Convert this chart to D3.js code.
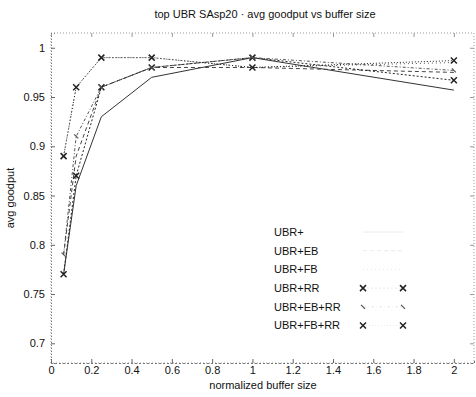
<!DOCTYPE html>
<html>
<head>
<meta charset="utf-8">
<script src="https://cdn.jsdelivr.net/npm/d3@7"></script>
<style>
  body { margin: 0; background: #fff; }
  text { font-family: "Liberation Sans", Arial, sans-serif; fill: #111; }
</style>
</head>
<body>
<div id="chart"></div>
<script>
// buffer sizes (normalized)
const bufferSizes = [0.0625, 0.125, 0.25, 0.5, 1, 2]

// avg goodput for each scheme
const ubr = [0.77, 0.86, 0.93, 0.97, 0.99, 0.957]
const ubrEb = [0.79, 0.89, 0.96, 0.98, 0.98, 0.975]
const ubrFb = [0.89, 0.96, 0.99, 0.99, 0.98, 0.985]
const ubrRr = [0.77, 0.87, 0.96, 0.98, 0.99, 0.967]
const ubrEbRr = [0.79, 0.91, 0.96, 0.98, 0.99, 0.977]
const ubrFbRr = [0.89, 0.96, 0.99, 0.99, 0.98, 0.987]

const seriesNames = ['UBR+', 'UBR+EB', 'UBR+FB', 'UBR+RR', 'UBR+EB+RR', 'UBR+FB+RR']
const seriesValues = [ubr, ubrEb, ubrFb, ubrRr, ubrEbRr, ubrFbRr]

const xTicks = [0, 0.2, 0.4, 0.6, 0.8, 1, 1.2, 1.4, 1.6, 1.8, 2]
const yTicks = [0.7, 0.75, 0.8, 0.85, 0.9, 0.95, 1]

const width = 476, height = 397
const margin = { top: 33, right: 2, bottom: 34, left: 51 }

// line styles per series
const styles = [
  { dash: null, marker: null, color: '#333' },
  { dash: '4,3', marker: null, color: '#444' },
  { dash: '1,3', marker: null, color: '#555' },
  { dash: '2,2', marker: 'x', color: '#222' },
  { dash: '3,2,1,2', marker: 'small', color: '#555' },
  { dash: '1,2', marker: 'x', color: '#222' }
]

const x = d3.scaleLinear()
  .domain([0, 2.1])
  .range([margin.left, width - margin.right])

const y = d3.scaleLinear()
  .domain([0.68, 1.015])
  .range([height - margin.bottom, margin.top])

const svg = d3.select('#chart')
  .append('svg')
  .attr('width', width)
  .attr('height', height)

// Frame (faint, dotted like the scan)
svg.append('rect')
  .attr('x', margin.left)
  .attr('y', margin.top)
  .attr('width', width - margin.left - margin.right)
  .attr('height', height - margin.top - margin.bottom)
  .attr('fill', 'none')
  .attr('stroke', '#999')
  .attr('stroke-dasharray', '1,2')
  .attr('stroke-width', 1)

// X axis, ticks pointing inward
svg.append('g')
  .attr('transform', `translate(0,${height - margin.bottom})`)
  .call(d3.axisBottom(x).tickValues(xTicks).tickSize(-4).tickPadding(3).tickFormat(d3.format('~g')))
  .call(g => g.select('.domain').attr('stroke', '#777').attr('stroke-dasharray', '2,2'))
  .call(g => g.selectAll('.tick line').attr('stroke', '#666'))
  .call(g => g.selectAll('.tick text').attr('font-size', 11).attr('fill', '#111'))

// top ticks
svg.append('g')
  .attr('transform', `translate(0,${margin.top})`)
  .call(d3.axisTop(x).tickValues(xTicks).tickSize(-4).tickFormat(''))
  .call(g => g.select('.domain').remove())
  .call(g => g.selectAll('.tick line').attr('stroke', '#999'))

// Y axis
svg.append('g')
  .attr('transform', `translate(${margin.left},0)`)
  .call(d3.axisLeft(y).tickValues(yTicks).tickSize(-4).tickPadding(6).tickFormat(d3.format('~g')))
  .call(g => g.select('.domain').attr('stroke', '#777').attr('stroke-dasharray', '1,2'))
  .call(g => g.selectAll('.tick line').attr('stroke', '#666'))
  .call(g => g.selectAll('.tick text').attr('font-size', 11).attr('fill', '#111'))

// right ticks
svg.append('g')
  .attr('transform', `translate(${width - margin.right},0)`)
  .call(d3.axisRight(y).tickValues(yTicks).tickSize(-4).tickFormat(''))
  .call(g => g.select('.domain').remove())
  .call(g => g.selectAll('.tick line').attr('stroke', '#999'))

const line = d3.line()
  .x(d => x(d[0]))
  .y(d => y(d[1]))

function drawMarker(g, type, px, py, color) {
  if (type === 'x') {
    g.append('path')
      .attr('d', `M${px - 3},${py - 3}L${px + 3},${py + 3}M${px - 3},${py + 3}L${px + 3},${py - 3}`)
      .attr('stroke', color)
      .attr('stroke-width', 1.5)
  } else if (type === 'small') {
    g.append('path')
      .attr('d', `M${px - 2},${py - 2}L${px + 2},${py + 2}`)
      .attr('stroke', color)
      .attr('stroke-width', 1.2)
  }
}

const plot = svg.append('g')

seriesValues.forEach((vals, i) => {
  const pts = bufferSizes.map((b, j) => [b, vals[j]])
  const s = styles[i]
  plot.append('path')
    .datum(pts)
    .attr('fill', 'none')
    .attr('stroke', s.color)
    .attr('stroke-width', 1)
    .attr('stroke-dasharray', s.dash)
    .attr('d', line)
  if (s.marker) {
    pts.forEach(p => drawMarker(plot, s.marker, x(p[0]), y(p[1]), s.color))
  }
})

// Legend (old style: marker at both ends of the sample line, sample lines faded)
const legend = svg.append('g')
seriesNames.forEach((name, i) => {
  const ly = 232 + i * 18.7
  const s = styles[i]
  legend.append('text')
    .attr('x', 274)
    .attr('y', ly)
    .attr('dy', '0.35em')
    .attr('font-size', 11)
    .text(name)
  legend.append('line')
    .attr('x1', 363).attr('x2', 403)
    .attr('y1', ly).attr('y2', ly)
    .attr('stroke', '#e4e4e4')
    .attr('stroke-width', 0.8)
    .attr('stroke-dasharray', s.dash)
  if (s.marker) {
    drawMarker(legend, s.marker, 363, ly, s.color)
    drawMarker(legend, s.marker, 403, ly, s.color)
  }
})

// Title
svg.append('text')
  .attr('x', 265)
  .attr('y', 18)
  .attr('text-anchor', 'middle')
  .attr('font-size', 11)
  .text('top UBR SAsp20 · avg goodput vs buffer size')

// X label
svg.append('text')
  .attr('x', 263)
  .attr('y', 389)
  .attr('text-anchor', 'middle')
  .attr('font-size', 11)
  .text('normalized buffer size')

// Y label
svg.append('text')
  .attr('transform', `translate(14,${(margin.top + height - margin.bottom) / 2}) rotate(-90)`)
  .attr('text-anchor', 'middle')
  .attr('font-size', 11)
  .text('avg goodput')
</script>
</body>
</html>
